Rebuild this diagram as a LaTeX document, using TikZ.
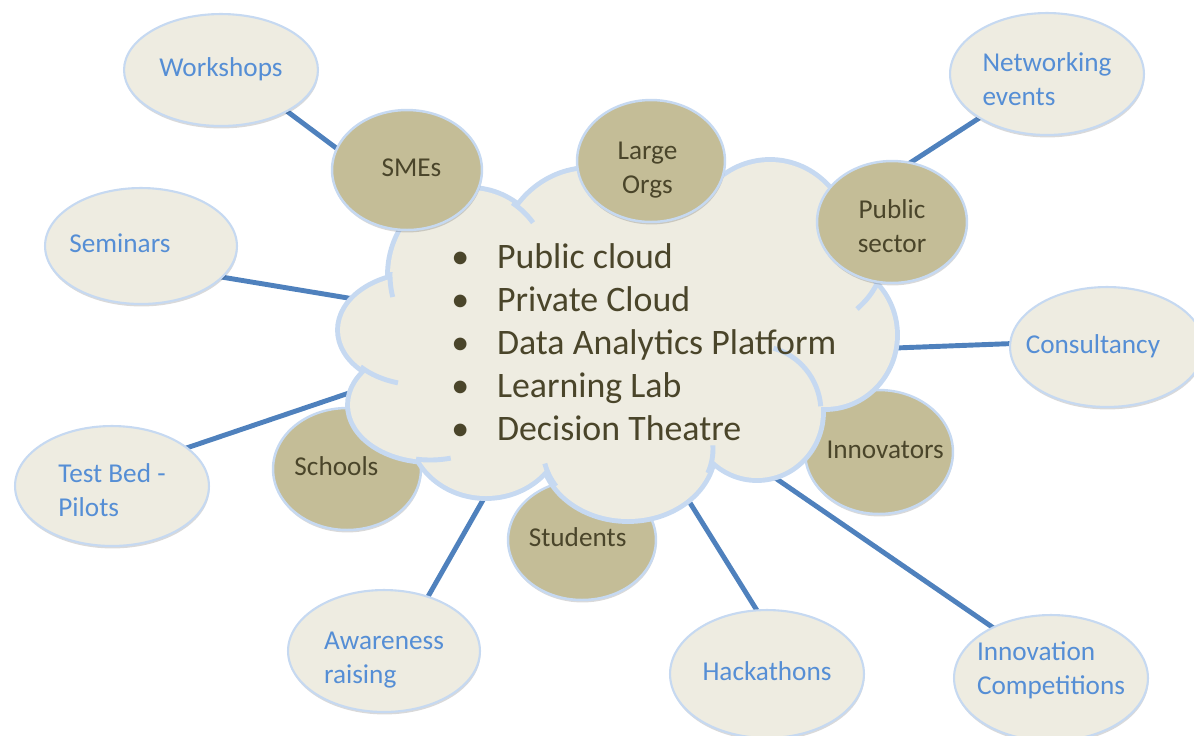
\documentclass[tikz,border=0pt]{standalone}
\usepackage{fontspec}
\setmainfont{Carlito}
\usetikzlibrary{shapes.geometric,shadows}
\definecolor{tanbg}{HTML}{EEECE1}
\definecolor{tandk}{HTML}{C4BD97}
\definecolor{edgeblue}{HTML}{C6D9F1}
\definecolor{olivetxt}{HTML}{4A452A}
\definecolor{bluetxt}{HTML}{558ED5}
\definecolor{linkblue}{HTML}{4F81BD}
\pgfdeclarelayer{bg}
\pgfsetlayers{bg,main}
% text inside an ellipse: horizontal shift, extra top height (moves text down by half), lines
\newcommand\ovtext[3]{\makebox[0pt]{\hspace*{#1}\raisebox{0pt}[\dimexpr\height+#2\relax][\depth]{\begin{tabular}{@{}l@{}}#3\end{tabular}}}}
\newcommand\intext[3]{\makebox[0pt]{\hspace*{#1}\raisebox{0pt}[\dimexpr\height+#2\relax][\depth]{\begin{tabular}{@{}c@{}}#3\end{tabular}}}}
\tikzset{
  shadowed/.style={drop shadow={shadow xshift=0.3pt, shadow yshift=-1.4pt, opacity=0.15, fill=black}},
  outerell/.style 2 args={ellipse, draw=edgeblue, line width=1.2pt, fill=tanbg,
    inner sep=0pt, outer sep=0pt, minimum width=#1*0.04cm, minimum height=#2*0.04cm,
    text=bluetxt, font=\fontsize{15.5}{19.3}\selectfont, shadowed},
  innerell/.style 2 args={ellipse, draw=edgeblue, line width=1.4pt, fill=tandk,
    inner sep=0pt, outer sep=0pt, minimum width=#1*0.04cm, minimum height=#2*0.04cm,
    text=olivetxt, font=\fontsize{15.5}{19.3}\selectfont, shadowed},
  link/.style={draw=linkblue, line width=2.8pt, shorten <=-14pt, shorten >=-14pt},
  lobeborder/.style={draw=edgeblue, line width=5.6pt},
  lobefill/.style={fill=tanbg},
  cloudstub/.style={draw=edgeblue, line width=2.8pt},
}
\begin{document}
\begin{tikzpicture}[x=0.02cm, y=-0.02cm]
\useasboundingbox (0,0) rectangle (1194,735);

% circles partly hidden behind the cloud
\node[innerell={74}{62}] (inno) at (879,452) {\intext{7pt}{0pt}{Innovators}};
\node[innerell={74}{61}] (school) at (347,469) {\intext{-12pt}{0pt}{Schools}};
\node[innerell={74}{60}] (stud) at (582,540) {\intext{-5pt}{0pt}{Students}};

% the cloud: union of lobes
\foreach \cx/\cy/\rx/\ry in {470/275/80/85, 590/265/90/95, 660/255/80/85, 770/247/80/85,
  825/335/70/72, 757/412/64/66, 628/449/85/70, 486/428/75/68, 430/405/80/55, 420/330/80/55}
  \draw[lobeborder] (\cx,\cy) ellipse [x radius=\rx, y radius=\ry];
\foreach \cx/\cy/\rx/\ry in {470/275/80/85, 590/265/90/95, 660/255/80/85, 770/247/80/85,
  825/335/70/72, 757/412/64/66, 628/449/85/70, 486/428/75/68, 430/405/80/55, 420/330/80/55,
  620/345/190/115}
  \fill[lobefill] (\cx,\cy) ellipse [x radius=\rx, y radius=\ry];
% inner arcs of the cloud
\draw[cloudstub] (470,275) ++(-58:80 and 85) arc[start angle=-58, end angle=-38, x radius=80, y radius=85];
\draw[cloudstub] (470,275) ++(182:80 and 85) arc[start angle=182, end angle=165, x radius=80, y radius=85];
\draw[cloudstub] (878,282) to[bend left=10] (857,309);
\draw[cloudstub] (757,412) ++(-5:64 and 66) arc[start angle=-5, end angle=-75, x radius=64, y radius=66];
\draw[cloudstub] (628,449) ++(20:85 and 70) arc[start angle=20, end angle=-3, x radius=85, y radius=70];
\draw[cloudstub] (628,449) ++(148:85 and 70) arc[start angle=148, end angle=168, x radius=85, y radius=70];
\draw[cloudstub] (430,405) ++(100:80 and 55) arc[start angle=100, end angle=75, x radius=80, y radius=55];
\draw[cloudstub] (420,330) ++(138:80 and 55) arc[start angle=138, end angle=106, x radius=80, y radius=55];

% circles lying on the cloud
\node[innerell={75}{60}] (sme) at (407,170) {\intext{5pt}{0pt}{SMEs}};
\node[innerell={74}{61}] (large) at (651,161) {\intext{-4pt}{10pt}{Large\\Orgs}};
\node[innerell={75}{61}] (pub) at (892,222) {\intext{0pt}{8pt}{Public\\sector}};

% outer ellipses
\node[outerell={97}{56}] (ws) at (221,70) {\ovtext{0pt}{0pt}{Workshops}};
\node[outerell={97}{61}] (net) at (1047,74) {\ovtext{0pt}{9pt}{Networking\\events}};
\node[outerell={96}{58}] (sem) at (141,246) {\ovtext{-24pt}{0pt}{Seminars}};
\node[outerell={97}{60}] (cons) at (1107,347) {\ovtext{-16pt}{0pt}{Consultancy}};
\node[outerell={97}{60}] (tb) at (112,486) {\ovtext{0pt}{8pt}{Test Bed -\\Pilots}};
\node[outerell={96}{61}] (aw) at (384,651) {\ovtext{0pt}{10pt}{Awareness\\raising}};
\node[outerell={97}{64}] (hk) at (767,674) {\ovtext{0pt}{0pt}{Hackathons}};
\node[outerell={97}{63}] (ic) at (1051,678) {\ovtext{0pt}{-8pt}{Innovation\\Competitions}};

% cloud text
\node[text=olivetxt, font=\fontsize{20.4}{24.4}\selectfont, align=left, anchor=west, inner sep=0pt] (ctext) at (451,342)
 {\makebox[26pt][l]{•}Public cloud\\
  \makebox[26pt][l]{•}Private Cloud\\
  \makebox[26pt][l]{•}Data Analytics Platform\\
  \makebox[26pt][l]{•}Learning Lab\\
  \makebox[26pt][l]{•}Decision Theatre};

% attachment points on the cloud
\coordinate (cSem) at (348,298);
\coordinate (cTB) at (352,392);
\coordinate (cAw) at (483,500);
\coordinate (cHk) at (687,498);
\coordinate (cIC) at (768,473);
\coordinate (cCons) at (895,348);

% connectors
\begin{pgfonlayer}{bg}
\draw[link] (ws.-32) -- (sme.163);
\draw[link] (net.213) -- (pub.73);
\draw[link] (sem.-21) -- (cSem);
\draw[link] (tb.27) -- (cTB);
\draw[link] (aw.51) -- (cAw);
\draw[link] (hk.99) -- (cHk);
\draw[link] (ic.139) -- (cIC);
\draw[link] (cons.178) -- (cCons);
\end{pgfonlayer}
\end{tikzpicture}
\end{document}
